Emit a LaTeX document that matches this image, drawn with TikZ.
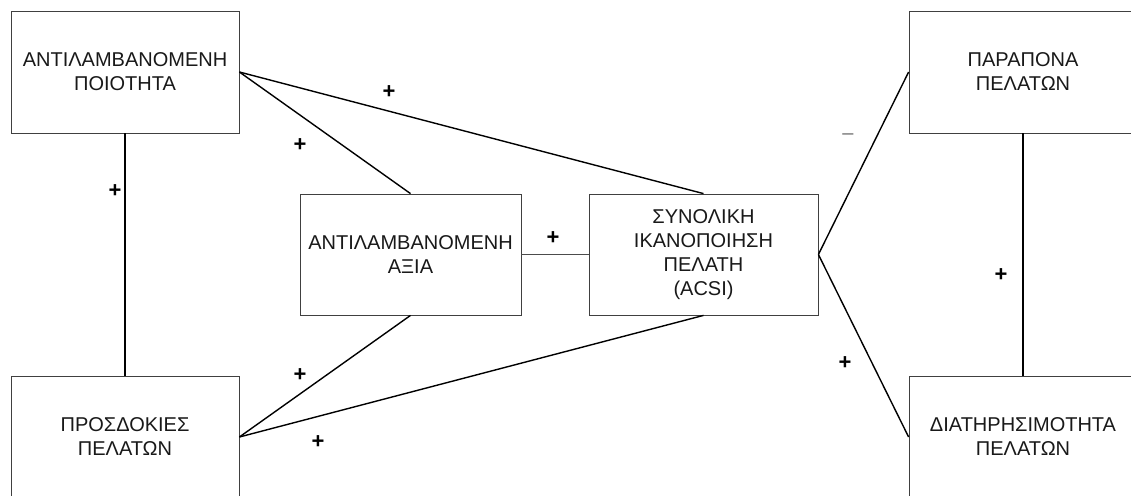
\documentclass[tikz,border=0pt]{standalone}
\usepackage{fontspec}
\setmainfont{Liberation Sans}
\begin{document}
\begin{tikzpicture}[x=1pt,y=-1pt,
  box/.style={draw=black!75, line width=0.8pt, minimum width=228pt, minimum height=122pt,
    align=center, inner sep=0pt, text=black!90, font=\fontsize{20}{24}\selectfont},
  link/.style={draw=black, line width=1.4pt},
  sgn/.style={font=\bfseries\fontsize{22}{22}\selectfont, inner sep=0pt, text=black},
  neg/.style={font=\fontsize{20}{20}\selectfont, inner sep=0pt, text=black!55}]
\clip (0,0) rectangle (1131,495);
\fill[white] (0,0) rectangle (1131,495);
\node[box] (q) at (125,72) {ΑΝΤΙΛΑΜΒΑΝΟΜΕΝΗ\\ΠΟΙΟΤΗΤΑ};
\node[box] (e) at (125,437) {ΠΡΟΣΔΟΚΙΕΣ\\ΠΕΛΑΤΩΝ};
\node[box, minimum width=221pt, minimum height=121pt] (v) at (410.5,254.5) {ΑΝΤΙΛΑΜΒΑΝΟΜΕΝΗ\\ΑΞΙΑ};
\node[box, minimum width=229pt, minimum height=121pt] (s) at (703.5,254.5) {ΣΥΝΟΛΙΚΗ\\ΙΚΑΝΟΠΟΙΗΣΗ\\ΠΕΛΑΤΗ\\(ACSI)};
\node[box] (c) at (1023,72) {ΠΑΡΑΠΟΝΑ\\ΠΕΛΑΤΩΝ};
\node[box] (l) at (1023,437) {ΔΙΑΤΗΡΗΣΙΜΟΤΗΤΑ\\ΠΕΛΑΤΩΝ};
\draw[link] (q.south) -- (e.north);
\draw[link] (c.south) -- (l.north);
\draw[link] (q.east) -- (v.north);
\draw[link] (q.east) -- (s.north);
\draw[link] (e.east) -- (v.south);
\draw[link] (e.east) -- (s.south);
\draw[link, line width=1pt, draw=black!70] (v.east) -- (s.west);
\draw[link] (s.east) -- (c.west);
\draw[link] (s.east) -- (l.west);
\node[sgn] (p1) at (389,92) {+};
\node[sgn] (p2) at (300,145) {+};
\node[sgn] (p3) at (115,191) {+};
\node[sgn] (p4) at (553,238) {+};
\node[sgn] (p5) at (300,375) {+};
\node[sgn] (p6) at (318,442) {+};
\node[sgn] (p7) at (845,363) {+};
\node[sgn] (p8) at (1001,275) {+};
\node[neg] (m1) at (848,137) {–};
\end{tikzpicture}
\end{document}
